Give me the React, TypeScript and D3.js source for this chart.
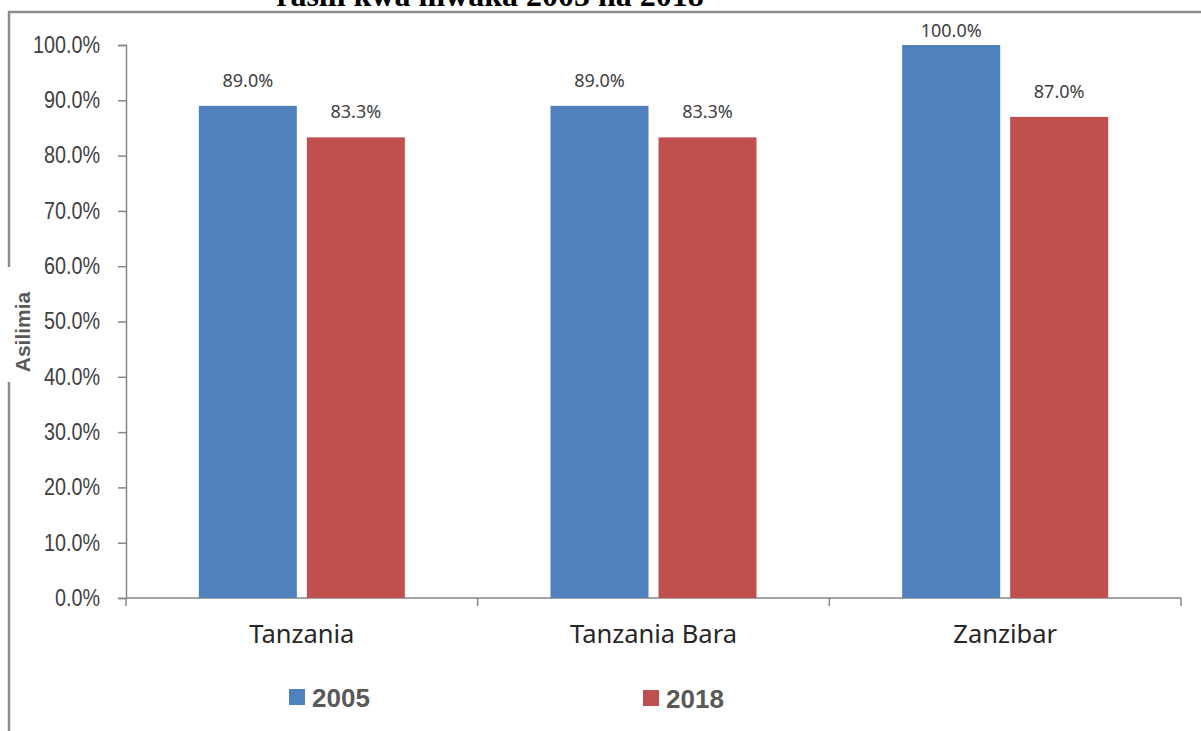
// App.tsx
import React, { useEffect, useRef } from 'react';
import * as d3 from 'd3';

const categories = ['Tanzania', 'Tanzania Bara', 'Zanzibar'];
const seriesNames = ['2005', '2018'];
const values2005 = [89.0, 89.0, 100.0];
const values2018 = [83.3, 83.3, 87.0];
const yTicks = [0, 10, 20, 30, 40, 50, 60, 70, 80, 90, 100];
const colors = ['#4F81BD', '#C0504D'];
const titleText = 'rasili kwa mwaka 2005 na 2018';
const yTitle = 'Asilimia';

const W = 1201;
const H = 731;

const App: React.FC = () => {
  const svgRef = useRef<SVGSVGElement>(null);

  useEffect(() => {
    document.body.style.margin = '0';
    if (!svgRef.current) return;
    const svg = d3.select(svgRef.current);
    svg.selectAll('*').remove();

    const left = 126, right = 1181, top = 45, bottom = 598;
    const groupW = 206;

    // frame around the chart
    svg.append('line').attr('x1', 8).attr('x2', W).attr('y1', 12).attr('y2', 12)
      .attr('stroke', '#8c8c8c').attr('stroke-width', 2.5);
    svg.append('line').attr('x1', 9).attr('x2', 9).attr('y1', 12).attr('y2', 267)
      .attr('stroke', '#8c8c8c').attr('stroke-width', 2.5);
    svg.append('line').attr('x1', 9).attr('x2', 9).attr('y1', 382).attr('y2', H)
      .attr('stroke', '#8c8c8c').attr('stroke-width', 2.5);

    // title (cut off at the top, as in the source)
    svg.append('text').attr('x', 490).attr('y', 6).attr('text-anchor', 'middle')
      .attr('font-family', '"Liberation Serif", "Times New Roman", serif')
      .attr('font-weight', 'bold').attr('font-size', 32).attr('fill', '#000')
      .text(titleText);

    const x0 = d3.scaleBand().domain(categories).range([left, right]);
    const x1 = d3.scaleBand().domain(seriesNames).range([0, groupW]).paddingInner(10 / 108);
    const y = d3.scaleLinear().domain([0, 100]).range([bottom, top]);

    // y axis
    const yAxis = svg.append('g').attr('transform', `translate(${left},0)`)
      .call(d3.axisLeft(y).tickValues(yTicks).tickSize(8).tickPadding(18)
        .tickFormat((d) => `${(+d).toFixed(1)}%`));
    yAxis.select('.domain').attr('stroke', '#868686').attr('stroke-width', 1.5);
    yAxis.selectAll('.tick line').attr('stroke', '#868686').attr('stroke-width', 1.5);
    // condensed look of the tick labels
    const sx = 0.86;
    yAxis.selectAll('.tick text')
      .attr('x', -26 / sx)
      .attr('transform', `scale(${sx},1)`)
      .attr('font-family', '"Liberation Sans", Arial, sans-serif')
      .attr('font-size', 23).attr('fill', '#404040');

    // x axis
    const xAxis = svg.append('g').attr('transform', `translate(0,${bottom})`);
    xAxis.append('line').attr('x1', left).attr('x2', right).attr('stroke', '#868686').attr('stroke-width', 1.5);
    const edges = [...categories.map((c) => x0(c) as number), right];
    xAxis.selectAll('line.tk').data(edges).enter().append('line').attr('class', 'tk')
      .attr('x1', (d) => d).attr('x2', (d) => d).attr('y1', 0).attr('y2', 8)
      .attr('stroke', '#868686').attr('stroke-width', 1.5);
    xAxis.selectAll('text').data(categories).enter().append('text')
      .attr('x', (d) => (x0(d) as number) + x0.bandwidth() / 2).attr('y', 45)
      .attr('text-anchor', 'middle')
      .attr('font-family', '"Noto Sans", "Open Sans", sans-serif')
      .attr('font-size', 25.5).attr('fill', '#262626')
      .text((d) => d);

    // bars
    const series = [values2005, values2018];
    series.forEach((vals, si) => {
      const g = svg.append('g');
      const offset = (x0.bandwidth() - groupW) / 2;
      const bx = (i: number) => (x0(categories[i]) as number) + offset + (x1(seriesNames[si]) as number);
      g.selectAll('rect').data(vals).enter().append('rect')
        .attr('x', (_, i) => bx(i))
        .attr('y', (d) => y(d))
        .attr('width', x1.bandwidth())
        .attr('height', (d) => bottom - y(d))
        .attr('fill', colors[si]);
      g.selectAll('text').data(vals).enter().append('text')
        .attr('x', (_, i) => bx(i) + x1.bandwidth() / 2)
        .attr('y', (d) => Math.max(y(d) - 19, 37))
        .attr('text-anchor', 'middle')
        .attr('font-family', '"Noto Sans", "Open Sans", sans-serif')
        .attr('font-size', 18).attr('fill', '#404040')
        .text((d) => `${d.toFixed(1)}%`);
    });

    // y axis title
    svg.append('text').attr('transform', 'translate(30,332) rotate(-90)')
      .attr('text-anchor', 'middle')
      .attr('font-family', '"Liberation Sans", Arial, sans-serif')
      .attr('font-weight', 'bold').attr('font-size', 21).attr('fill', '#595959')
      .text(yTitle);

    // legend
    const legendX = [289, 643];
    const legend = svg.append('g');
    const items = legend.selectAll('g').data(seriesNames).enter().append('g')
      .attr('transform', (_, i) => `translate(${legendX[i]},${689 + i})`);
    items.append('rect').attr('width', 16).attr('height', 16).attr('fill', (_, i) => colors[i]);
    items.append('text').attr('x', 23).attr('y', 18)
      .attr('font-family', '"Liberation Sans", Arial, sans-serif')
      .attr('font-weight', 'bold').attr('font-size', 26).attr('fill', '#595959')
      .text((d) => d);
  }, []);

  return <svg ref={svgRef} width={W} height={H} style={{ display: 'block', background: '#fff' }}></svg>;
};

export default App;
